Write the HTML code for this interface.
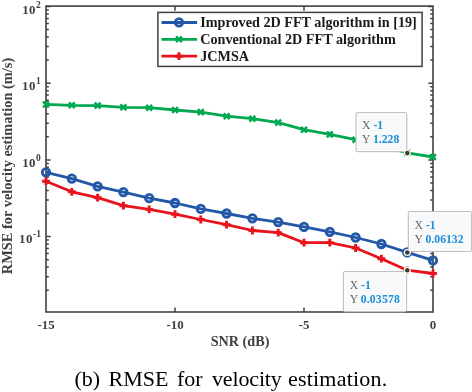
<!DOCTYPE html>
<html><head><meta charset="utf-8"><style>
html,body{margin:0;padding:0;background:#fff;width:472px;height:392px;overflow:hidden}
svg{display:block;will-change:transform}
text{font-family:"Liberation Serif",serif}
</style></head><body>
<svg width="472" height="392" viewBox="0 0 472 392">
<rect x="0" y="0" width="472" height="392" fill="#fff"/>

<path d="M46.0,6.50h4.6M433.0,6.50h-4.6M46.0,83.20h4.6M433.0,83.20h-4.6M46.0,159.90h4.6M433.0,159.90h-4.6M46.0,236.60h4.6M433.0,236.60h-4.6M46.0,60.11h2.8M433.0,60.11h-2.8M46.0,46.60h2.8M433.0,46.60h-2.8M46.0,37.02h2.8M433.0,37.02h-2.8M46.0,29.59h2.8M433.0,29.59h-2.8M46.0,23.52h2.8M433.0,23.52h-2.8M46.0,18.38h2.8M433.0,18.38h-2.8M46.0,13.93h2.8M433.0,13.93h-2.8M46.0,10.01h2.8M433.0,10.01h-2.8M46.0,136.81h2.8M433.0,136.81h-2.8M46.0,123.30h2.8M433.0,123.30h-2.8M46.0,113.72h2.8M433.0,113.72h-2.8M46.0,106.29h2.8M433.0,106.29h-2.8M46.0,100.22h2.8M433.0,100.22h-2.8M46.0,95.08h2.8M433.0,95.08h-2.8M46.0,90.63h2.8M433.0,90.63h-2.8M46.0,86.71h2.8M433.0,86.71h-2.8M46.0,213.51h2.8M433.0,213.51h-2.8M46.0,200.00h2.8M433.0,200.00h-2.8M46.0,190.42h2.8M433.0,190.42h-2.8M46.0,182.99h2.8M433.0,182.99h-2.8M46.0,176.92h2.8M433.0,176.92h-2.8M46.0,171.78h2.8M433.0,171.78h-2.8M46.0,167.33h2.8M433.0,167.33h-2.8M46.0,163.41h2.8M433.0,163.41h-2.8M46.0,290.21h2.8M433.0,290.21h-2.8M46.0,276.70h2.8M433.0,276.70h-2.8M46.0,267.12h2.8M433.0,267.12h-2.8M46.0,259.69h2.8M433.0,259.69h-2.8M46.0,253.62h2.8M433.0,253.62h-2.8M46.0,248.48h2.8M433.0,248.48h-2.8M46.0,244.03h2.8M433.0,244.03h-2.8M46.0,240.11h2.8M433.0,240.11h-2.8M175.00,6.1v4.6M175.00,312v-4.6M304.00,6.1v4.6M304.00,312v-4.6" stroke="#404040" stroke-width="1.5" fill="none"/>
<rect x="46.0" y="6.1" width="387.0" height="305.90" fill="none" stroke="#404040" stroke-width="1.6"/>
<polyline points="46.00,104.40 71.80,105.30 97.60,105.60 123.40,107.30 149.20,107.70 175.00,110.00 200.80,112.10 226.60,116.20 252.40,118.70 278.20,122.60 304.00,129.70 329.80,134.40 355.60,139.70 381.40,146.00 407.20,152.90 433.00,157.00" fill="none" stroke="#00a94f" stroke-width="2.8" stroke-linejoin="round"/>
<polyline points="46.00,172.30 71.80,178.60 97.60,186.30 123.40,192.20 149.20,198.20 175.00,203.00 200.80,208.90 226.60,213.50 252.40,218.30 278.20,222.10 304.00,226.90 329.80,231.80 355.60,237.50 381.40,244.00 407.20,252.40 433.00,260.40" fill="none" stroke="#2358a8" stroke-width="2.8" stroke-linejoin="round"/>
<polyline points="46.00,181.20 71.80,191.80 97.60,197.70 123.40,205.70 149.20,209.40 175.00,214.20 200.80,219.50 226.60,224.70 252.40,230.50 278.20,232.60 304.00,242.70 329.80,242.60 355.60,248.00 381.40,258.70 407.20,270.20 433.00,273.50" fill="none" stroke="#e8131c" stroke-width="2.8" stroke-linejoin="round"/>
<path d="M43.10,101.50l5.8,5.8M43.10,107.30l5.8,-5.8M68.90,102.40l5.8,5.8M68.90,108.20l5.8,-5.8M94.70,102.70l5.8,5.8M94.70,108.50l5.8,-5.8M120.50,104.40l5.8,5.8M120.50,110.20l5.8,-5.8M146.30,104.80l5.8,5.8M146.30,110.60l5.8,-5.8M172.10,107.10l5.8,5.8M172.10,112.90l5.8,-5.8M197.90,109.20l5.8,5.8M197.90,115.00l5.8,-5.8M223.70,113.30l5.8,5.8M223.70,119.10l5.8,-5.8M249.50,115.80l5.8,5.8M249.50,121.60l5.8,-5.8M275.30,119.70l5.8,5.8M275.30,125.50l5.8,-5.8M301.10,126.80l5.8,5.8M301.10,132.60l5.8,-5.8M326.90,131.50l5.8,5.8M326.90,137.30l5.8,-5.8M352.70,136.80l5.8,5.8M352.70,142.60l5.8,-5.8M378.50,143.10l5.8,5.8M378.50,148.90l5.8,-5.8M404.30,150.00l5.8,5.8M404.30,155.80l5.8,-5.8M430.10,154.10l5.8,5.8M430.10,159.90l5.8,-5.8" stroke="#00a94f" stroke-width="2.5" fill="none"/>
<circle cx="46.00" cy="172.30" r="3.75" fill="none" stroke="#2358a8" stroke-width="2.8"/>
<circle cx="71.80" cy="178.60" r="3.75" fill="none" stroke="#2358a8" stroke-width="2.8"/>
<circle cx="97.60" cy="186.30" r="3.75" fill="none" stroke="#2358a8" stroke-width="2.8"/>
<circle cx="123.40" cy="192.20" r="3.75" fill="none" stroke="#2358a8" stroke-width="2.8"/>
<circle cx="149.20" cy="198.20" r="3.75" fill="none" stroke="#2358a8" stroke-width="2.8"/>
<circle cx="175.00" cy="203.00" r="3.75" fill="none" stroke="#2358a8" stroke-width="2.8"/>
<circle cx="200.80" cy="208.90" r="3.75" fill="none" stroke="#2358a8" stroke-width="2.8"/>
<circle cx="226.60" cy="213.50" r="3.75" fill="none" stroke="#2358a8" stroke-width="2.8"/>
<circle cx="252.40" cy="218.30" r="3.75" fill="none" stroke="#2358a8" stroke-width="2.8"/>
<circle cx="278.20" cy="222.10" r="3.75" fill="none" stroke="#2358a8" stroke-width="2.8"/>
<circle cx="304.00" cy="226.90" r="3.75" fill="none" stroke="#2358a8" stroke-width="2.8"/>
<circle cx="329.80" cy="231.80" r="3.75" fill="none" stroke="#2358a8" stroke-width="2.8"/>
<circle cx="355.60" cy="237.50" r="3.75" fill="none" stroke="#2358a8" stroke-width="2.8"/>
<circle cx="381.40" cy="244.00" r="3.75" fill="none" stroke="#2358a8" stroke-width="2.8"/>
<circle cx="407.20" cy="252.40" r="3.75" fill="none" stroke="#2358a8" stroke-width="2.8"/>
<circle cx="433.00" cy="260.40" r="3.75" fill="none" stroke="#2358a8" stroke-width="2.8"/>
<path d="M42.10,181.20h7.8M46.00,177.30v7.8M67.90,191.80h7.8M71.80,187.90v7.8M93.70,197.70h7.8M97.60,193.80v7.8M119.50,205.70h7.8M123.40,201.80v7.8M145.30,209.40h7.8M149.20,205.50v7.8M171.10,214.20h7.8M175.00,210.30v7.8M196.90,219.50h7.8M200.80,215.60v7.8M222.70,224.70h7.8M226.60,220.80v7.8M248.50,230.50h7.8M252.40,226.60v7.8M274.30,232.60h7.8M278.20,228.70v7.8M300.10,242.70h7.8M304.00,238.80v7.8M325.90,242.60h7.8M329.80,238.70v7.8M351.70,248.00h7.8M355.60,244.10v7.8M377.50,258.70h7.8M381.40,254.80v7.8M403.30,270.20h7.8M407.20,266.30v7.8M429.10,273.50h7.8M433.00,269.60v7.8" stroke="#e8131c" stroke-width="2.9" fill="none"/>
<text x="22.2" y="13.9" font-weight="bold" fill="#404040" font-size="12.9"><tspan letter-spacing="0.4">1</tspan>0<tspan font-size="9.5" dy="-6" dx="0.6">2</tspan></text>
<text x="22.1" y="90.0" font-weight="bold" fill="#404040" font-size="12.9"><tspan letter-spacing="0.4">1</tspan>0<tspan font-size="9.5" dy="-6" dx="0.6">1</tspan></text>
<text x="22.2" y="166.9" font-weight="bold" fill="#404040" font-size="12.9"><tspan letter-spacing="0.4">1</tspan>0<tspan font-size="9.5" dy="-6" dx="0.6">0</tspan></text>
<text x="19.1" y="242.9" font-weight="bold" fill="#404040" font-size="12.9"><tspan letter-spacing="0.4">1</tspan>0<tspan font-size="9.5" dy="-6" dx="0.6">-1</tspan></text>
<text x="46.00" y="328.8" text-anchor="middle" font-weight="bold" fill="#404040" font-size="12.9">-15</text>
<text x="175.00" y="328.8" text-anchor="middle" font-weight="bold" fill="#404040" font-size="12.9">-10</text>
<text x="304.00" y="328.8" text-anchor="middle" font-weight="bold" fill="#404040" font-size="12.9">-5</text>
<text x="433.00" y="328.8" text-anchor="middle" font-weight="bold" fill="#404040" font-size="12.9">0</text>
<text x="240" y="346.4" text-anchor="middle" font-weight="bold" font-size="14.2" fill="#404040">SNR (dB)</text>
<text transform="translate(11.9,166) rotate(-90)" x="0" y="0" text-anchor="middle" font-weight="bold" font-size="14.4" fill="#404040">RMSE for velocity estimation (m/s)</text>
<rect x="157.9" y="12.4" width="264.2" height="54.0" fill="#fff" stroke="#404040" stroke-width="1.5"/>
<line x1="161.5" y1="22.5" x2="197.1" y2="22.5" stroke="#2358a8" stroke-width="2.8"/>
<text x="200.2" y="27.3" font-weight="bold" font-size="14.2" fill="#1a1a1a">Improved 2D FFT algorithm in [19]</text>
<line x1="161.5" y1="39.3" x2="197.1" y2="39.3" stroke="#00a94f" stroke-width="2.8"/>
<text x="200.2" y="44.3" font-weight="bold" font-size="14.2" fill="#1a1a1a">Conventional 2D FFT algorithm</text>
<line x1="161.5" y1="56.2" x2="197.1" y2="56.2" stroke="#e8131c" stroke-width="2.8"/>
<text x="200.2" y="61.3" font-weight="bold" font-size="14.2" fill="#1a1a1a">JCMSA</text>
<circle cx="179" cy="22.4" r="3.75" fill="none" stroke="#2358a8" stroke-width="2.8"/>
<path d="M176.1,36.4l5.8,5.8M176.1,42.2l5.8,-5.8" stroke="#00a94f" stroke-width="2.5"/>
<path d="M175.1,56.2h7.8M179,52.3v7.8" stroke="#e8131c" stroke-width="2.9"/>
<rect x="356.1" y="112.6" width="50.6" height="39.1" rx="1.8" fill="#f8f9fb" stroke="#c2c2c2" stroke-width="1.3"/>
<rect x="357.3" y="113.8" width="48.2" height="36.7" fill="none" stroke="#ffffff" stroke-width="0.9"/>
<text x="362" y="128.7" font-size="11.7" fill="#666">X <tspan font-weight="bold" fill="#1a8fd8">-1</tspan></text>
<text x="362" y="142.89999999999998" font-size="11.7" fill="#666">Y <tspan font-weight="bold" fill="#1a8fd8" letter-spacing="0">1.228</tspan></text>
<rect x="408.4" y="211.6" width="63.0" height="39.7" rx="1.8" fill="#f8f9fb" stroke="#c2c2c2" stroke-width="1.3"/>
<rect x="409.59999999999997" y="212.79999999999998" width="60.6" height="37.3" fill="none" stroke="#ffffff" stroke-width="0.9"/>
<text x="414.6" y="229.1" font-size="11.7" fill="#666">X <tspan font-weight="bold" fill="#1a8fd8">-1</tspan></text>
<text x="414.6" y="243.29999999999998" font-size="11.7" fill="#666">Y <tspan font-weight="bold" fill="#1a8fd8" letter-spacing="0">0.06132</tspan></text>
<rect x="343.5" y="271.7" width="63.0" height="39.8" rx="1.8" fill="#f8f9fb" stroke="#c2c2c2" stroke-width="1.3"/>
<rect x="344.7" y="272.9" width="60.6" height="37.4" fill="none" stroke="#ffffff" stroke-width="0.9"/>
<text x="349.7" y="289.2" font-size="11.7" fill="#666">X <tspan font-weight="bold" fill="#1a8fd8">-1</tspan></text>
<text x="349.7" y="303.4" font-size="11.7" fill="#666">Y <tspan font-weight="bold" fill="#1a8fd8" letter-spacing="0.2">0.03578</tspan></text>
<circle cx="407.3" cy="153.1" r="3.6" fill="#fffce6"/><circle cx="407.3" cy="153.1" r="2.3" fill="#3c3c3c"/>
<circle cx="407.3" cy="252.5" r="3.6" fill="#fffce6"/><circle cx="407.3" cy="252.5" r="2.3" fill="#3c3c3c"/>
<circle cx="407.3" cy="270.2" r="3.6" fill="#fffce6"/><circle cx="407.3" cy="270.2" r="2.3" fill="#3c3c3c"/>
<text x="74.4" y="386.2" font-size="22.0" letter-spacing="0" fill="#000">(b)</text>
<text x="108.6" y="386.2" font-size="22.0" letter-spacing="0" fill="#000">RMSE</text>
<text x="177.0" y="386.2" font-size="22.0" letter-spacing="0" fill="#000">for</text>
<text x="212.0" y="386.2" font-size="22.0" letter-spacing="-0.15" fill="#000">velocity</text>
<text x="288.0" y="386.2" font-size="22.0" letter-spacing="0.2" fill="#000">estimation.</text>
</svg></body></html>
